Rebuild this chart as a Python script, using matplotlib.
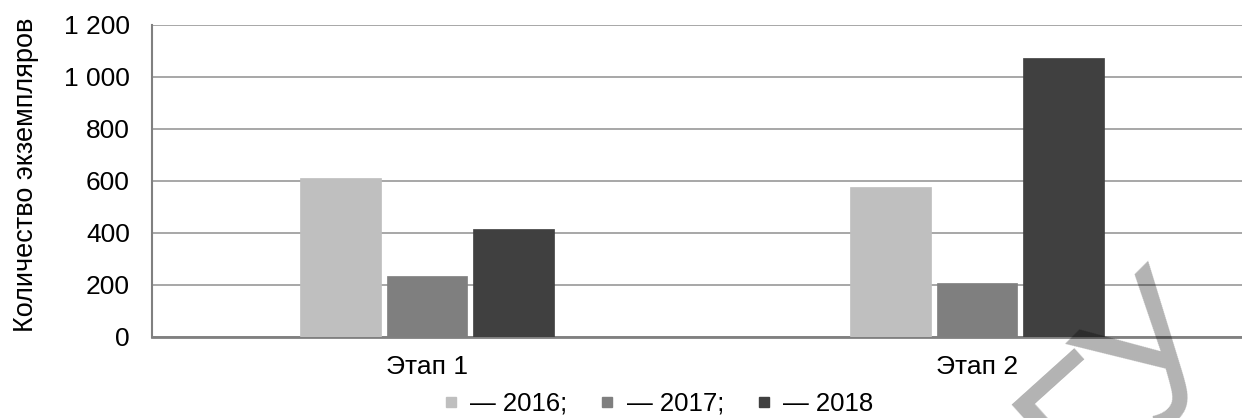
import matplotlib
matplotlib.use("Agg")
import matplotlib.pyplot as plt
from matplotlib.lines import Line2D
import numpy as np

plt.rcParams['font.family'] = ['Liberation Sans', 'DejaVu Sans']

categories = ["Этап 1", "Этап 2"]
years = ["2016", "2017", "2018"]
values_2016 = [611, 577]
values_2017 = [235, 208]
values_2018 = [415, 1073]
colors = ["#bfbfbf", "#7f7f7f", "#404040"]
legend_labels = ["— 2016;", "— 2017;", "— 2018"]
yticks = [0, 200, 400, 600, 800, 1000, 1200]
ytick_labels = ["0", "200", "400", "600", "800", "1 000", "1 200"]

W, H = 1242, 418
fig = plt.figure(figsize=(W / 100, H / 100), dpi=100)
ax = fig.add_axes([152 / W, 1 - 337 / H, 1100 / W, 312 / H])

x = np.arange(len(categories))
width = 0.147
step = 0.158
series = [values_2016, values_2017, values_2018]
for i, (vals, c) in enumerate(zip(series, colors)):
    ax.bar(x + (i - 1) * step, vals, width=width, color=c, zorder=3,
           edgecolor=c, linewidth=0.5)

ax.set_xlim(-0.5, 1.5)
ax.set_ylim(0, 1200)
ax.set_yticks(yticks)
ax.set_yticklabels(ytick_labels)
ax.set_xticks(x)
ax.set_xticklabels(categories)
ax.tick_params(axis='both', length=0, labelsize=19, colors='black')
ax.tick_params(axis='y', pad=16)
ax.tick_params(axis='x', pad=13)
ax.yaxis.grid(True, color='#a0a0a0', linewidth=1.3, zorder=0)
ax.set_axisbelow(True)
for s in ['top', 'right']:
    ax.spines[s].set_visible(False)
ax.spines['left'].set_color('#808080')
ax.spines['left'].set_linewidth(1.5)
ax.spines['bottom'].set_color('#808080')
ax.spines['bottom'].set_linewidth(2)

fig.text(26 / W, 1 - 175 / H, "Количество экземпляров", rotation=90,
         ha='center', va='center', fontsize=19.5)

handles = [Line2D([], [], marker='s', linestyle='none', markersize=7.5,
                  markerfacecolor=c, markeredgecolor=c) for c in colors]
fig.legend(handles, legend_labels, loc='center', bbox_to_anchor=(657 / W, 1 - 404 / H),
           ncol=3, frameon=False, fontsize=18.5, handletextpad=0.35,
           columnspacing=1.15, handlelength=0.8, borderpad=0)

# watermark letters
fig.text(1090 / W, 1 - 432 / H, "Г", fontsize=138, color='black', alpha=0.3,
         rotation=42, ha='center', va='center', zorder=10)
fig.text(1055 / W, 1 - 338 / H, "У", fontsize=138, color='black', alpha=0.3,
         rotation=45, ha='left', va='top', rotation_mode='anchor', zorder=10)

fig.savefig("out.png", dpi=100)
